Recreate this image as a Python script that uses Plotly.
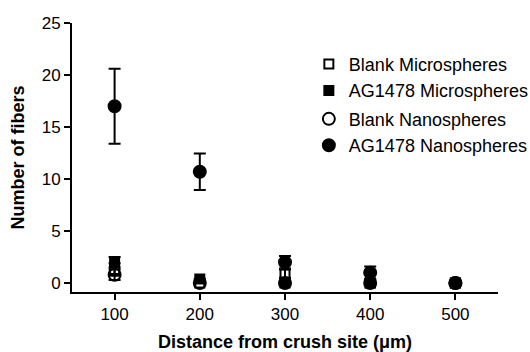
import plotly.graph_objects as go

distance = [100, 200, 300, 400, 500]

blank_micro = [1.3, 0.0, 0.9, 0.0, 0.0]
blank_micro_err = [0.6, 0.0, 0.4, 0.0, 0.0]
ag_micro = [2.0, 0.4, 0.0, 0.0, 0.0]
ag_micro_err = [0.5, 0.0, 0.0, 0.0, 0.0]
blank_nano = [0.8, 0.0, 0.0, 0.0, 0.0]
blank_nano_err = [0.5, 0.0, 0.0, 0.0, 0.0]
ag_nano = [17.0, 10.7, 2.0, 1.0, 0.0]
ag_nano_err = [3.6, 1.75, 0.6, 0.6, 0.0]

y_ticks = [0, 5, 10, 15, 20, 25]
x_ticks = [100, 200, 300, 400, 500]

FONT = "Arial, Liberation Sans, Helvetica, sans-serif"

series = [
    ("Blank Microspheres", blank_micro, blank_micro_err, "square-open", 9, "micro"),
    ("AG1478 Microspheres", ag_micro, ag_micro_err, "square", 9, "micro"),
    ("Blank Nanospheres", blank_nano, blank_nano_err, "circle-open", 12, "nano"),
    ("AG1478 Nanospheres", ag_nano, ag_nano_err, "circle", 12, "nano"),
]

fig = go.Figure()
for name, vals, errs, sym, size, grp in series:
    fig.add_trace(go.Scatter(
        x=distance, y=vals, name=name, mode="markers", legendgroup=grp,
        marker=dict(symbol=sym, size=size, color="black",
                    line=dict(color="black", width=2)),
        error_y=dict(type="data", array=errs, visible=True,
                     color="black", thickness=2, width=6),
    ))

fig.update_layout(
    width=530, height=352,
    margin=dict(l=72, r=32, t=23, b=60, autoexpand=False),
    paper_bgcolor="white", plot_bgcolor="white",
    font=dict(family=FONT, color="black", size=17),
    legend=dict(x=0.556, y=0.915, xanchor="left", yanchor="top",
                font=dict(size=18, family=FONT), tracegroupgap=2,
                bgcolor="rgba(0,0,0,0)", itemwidth=30),
    showlegend=True,
)
fig.update_xaxes(
    range=[50, 550], tickvals=x_ticks, ticktext=[str(v) for v in x_ticks],
    showline=True, linecolor="black", linewidth=2, mirror=False,
    ticks="outside", ticklen=6, tickwidth=2, tickcolor="black",
    showgrid=False, zeroline=False, automargin=False,
    title=dict(text="<b>Distance from crush site (μm)</b>", font=dict(size=18, family=FONT), standoff=22),
    tickfont=dict(size=17, family=FONT),
)
fig.update_yaxes(
    range=[-0.86, 25], tickvals=y_ticks, ticktext=[str(v) for v in y_ticks],
    showline=True, linecolor="black", linewidth=2,
    ticks="outside", ticklen=6, tickwidth=2, tickcolor="black",
    showgrid=False, zeroline=False, automargin=False,
    title=dict(text="<b>Number of fibers</b>", font=dict(size=18, family=FONT), standoff=12),
    tickfont=dict(size=17, family=FONT),
)

fig.write_html(
    "out.html",
    config={"displayModeBar": False},
    post_script="document.body.style.margin='0';document.body.style.overflow='hidden';",
)
